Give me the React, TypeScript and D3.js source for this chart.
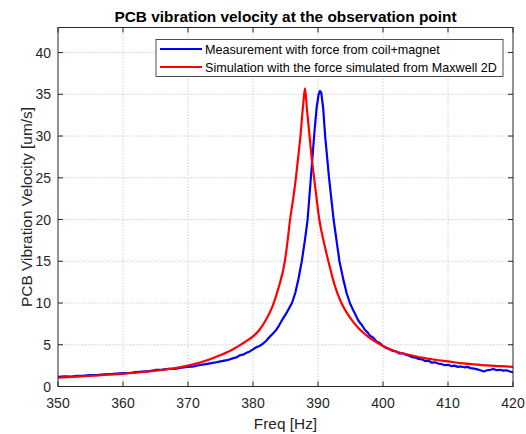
import React from "react";
import * as d3 from "d3";

const xTicks = [350, 360, 370, 380, 390, 400, 410, 420];
const yTicks = [0, 5, 10, 15, 20, 25, 30, 35, 40];

const measFreq = [
  350, 351, 352, 353, 354, 355, 356, 357, 358, 359, 360, 361, 362, 363, 364, 365, 366, 367, 368, 369,
  370, 371, 372, 373, 374, 375, 376, 377, 377.5, 378, 378.5, 379, 379.5, 380, 380.5, 381, 381.5,
  382, 382.5, 383, 383.5, 384, 384.5, 385, 385.5, 386, 386.5, 387, 387.5, 388, 388.4, 388.9, 389.4,
  389.8, 390.1, 390.3, 390.5, 390.8, 391.1, 391.7, 392.4, 393.3, 393.9, 394.4, 394.9, 395.5, 396.2,
  396.7, 397.2, 397.6, 398, 398.5, 399, 399.5, 400, 400.5, 401, 401.5, 402, 402.5, 403, 403.5, 404,
  404.5, 405, 405.5, 406, 406.5, 407, 407.5, 408, 408.5, 409, 409.5, 410, 410.5, 411, 411.5, 412,
  412.5, 413, 413.5, 414, 414.5, 415, 415.5, 416, 416.5, 417, 417.5, 418, 418.5, 419, 419.5, 420,
];
const measVel = [
  1.15, 1.22, 1.2, 1.28, 1.3, 1.38, 1.36, 1.45, 1.5, 1.55, 1.6, 1.62, 1.72, 1.78, 1.85, 1.98, 2.02, 2.1, 2.12, 2.25,
  2.35, 2.42, 2.6, 2.72, 2.85, 3.0, 3.15, 3.4, 3.5, 3.75, 3.82, 4.05, 4.2, 4.45, 4.7, 4.85, 5.1,
  5.45, 5.9, 6.3, 6.7, 7.3, 8.0, 8.6, 9.3, 10.0, 11.2, 12.9, 15.0, 17.6, 20.0, 25.0, 30.0,
  33.5, 35.0, 35.4, 35.2, 33.3, 30.0, 25.0, 20.0, 15.0, 12.8, 11.2, 10.0, 9.0, 7.9,
  7.4, 6.8, 6.5, 6.1, 5.85, 5.4, 5.2, 4.85, 4.6, 4.45, 4.25, 4.2, 3.95, 4.0, 3.8, 3.7,
  3.5, 3.45, 3.3, 3.25, 3.05, 3.1, 2.85, 2.9, 2.75, 2.7, 2.55, 2.6, 2.45, 2.5, 2.35, 2.4,
  2.3, 2.35, 2.2, 2.15, 2.05, 1.95, 1.8, 1.95, 2.0, 2.1, 1.95, 2.0, 1.9, 1.95, 1.8, 1.7,
];

const simFreq = [
  350, 352, 354, 356, 358, 360, 362, 364, 366, 368, 370, 372, 374, 376, 377, 378, 379, 380, 381, 382,
  383, 384, 384.9, 385.3, 385.7, 386.2, 386.6, 387.0, 387.3, 387.7, 388.0, 388.3, 388.7, 389.0, 389.4,
  389.8, 390.2, 390.9, 391.6, 392.5, 393.6, 394.5, 395.3, 396.2, 397.5, 398.7, 400, 402, 404, 406,
  408, 410, 412, 414, 416, 418, 420,
];
const simVel = [
  1.05, 1.14, 1.23, 1.32, 1.42, 1.52, 1.65, 1.8, 1.98, 2.2, 2.5, 2.9, 3.45, 4.1, 4.5, 4.95, 5.45, 6.0, 6.8, 8.0,
  9.6, 12.0, 15.0, 17.3, 20.0, 22.6, 25.0, 27.8, 30.0, 33.6, 35.7, 33.2, 30.0, 27.6, 25.0,
  22.4, 20.0, 17.3, 15.0, 12.3, 10.0, 8.75, 7.85, 7.0, 6.1, 5.45, 4.85, 4.2, 3.8, 3.45,
  3.2, 3.0, 2.8, 2.65, 2.52, 2.43, 2.35,
];

const seriesNames = [
  "Measurement with force from coil+magnet",
  "Simulation with the force simulated from Maxwell 2D",
];
const seriesColors = ["#0000ff", "#ff0000"];

const W = 526;
const H = 434;
const L = 58;
const R = 513;
const T = 27.5;
const B = 386.5;
const FONT = "'Liberation Sans', Arial, Helvetica, sans-serif";
const AX = "#262626";

export default function App() {
  const x = d3.scaleLinear().domain([350, 420]).range([L, R]);
  const y = d3.scaleLinear().domain([0, 43]).range([B, T]);

  const measData = measFreq.map((f, i) => [f, measVel[i]] as [number, number]);
  const simData = simFreq.map((f, i) => [f, simVel[i]] as [number, number]);

  const measLine = d3.line<[number, number]>().x((d) => x(d[0])).y((d) => y(d[1]))(measData) || "";
  const simLine = d3
    .line<[number, number]>()
    .x((d) => x(d[0]))
    .y((d) => y(d[1]))
    .curve(d3.curveMonotoneX)(simData) || "";

  const tickLen = 5;
  const legX = 156;
  const legY = 39.5;
  const legW = 347;
  const legH = 37;

  return (
    <svg
      width={W}
      height={H}
      style={{ position: "absolute", left: 0, top: 0, background: "#fff" }}
      fontFamily={FONT}
    >
      <rect x={0} y={0} width={W} height={H} fill="#fff" />
      <defs>
        <clipPath id="plotclip">
          <rect x={L} y={T} width={R - L} height={B - T} />
        </clipPath>
      </defs>
      {/* grid */}
      <g stroke="#c4c4c4" strokeWidth={0.8} strokeDasharray="1.5,1.5">
        {xTicks.slice(1, -1).map((t) => (
          <line key={"gx" + t} x1={x(t)} x2={x(t)} y1={T} y2={B} />
        ))}
        {yTicks.slice(1).map((t) => (
          <line key={"gy" + t} x1={L} x2={R} y1={y(t)} y2={y(t)} />
        ))}
      </g>
      {/* data */}
      <g clipPath="url(#plotclip)" fill="none" strokeLinejoin="round" strokeLinecap="round">
        <path d={measLine} stroke={seriesColors[0]} strokeWidth={2.2} />
        <path d={simLine} stroke={seriesColors[1]} strokeWidth={2.2} />
      </g>
      {/* axes box */}
      <rect x={L} y={T} width={R - L} height={B - T} fill="none" stroke={AX} strokeWidth={1} />
      <g stroke={AX} strokeWidth={1}>
        {xTicks.map((t) => (
          <g key={"tx" + t}>
            <line x1={x(t)} x2={x(t)} y1={B} y2={B - tickLen} />
            <line x1={x(t)} x2={x(t)} y1={T} y2={T + tickLen} />
          </g>
        ))}
        {yTicks.map((t) => (
          <g key={"ty" + t}>
            <line x1={L} x2={L + tickLen} y1={y(t)} y2={y(t)} />
            <line x1={R} x2={R - tickLen} y1={y(t)} y2={y(t)} />
          </g>
        ))}
      </g>
      {/* tick labels */}
      <g fill={AX} fontSize={14}>
        {xTicks.map((t) => (
          <text key={"lx" + t} x={x(t)} y={408} textAnchor="middle">
            {t}
          </text>
        ))}
        {yTicks.map((t) => (
          <text key={"ly" + t} x={L - 7} y={y(t) + 5} textAnchor="end">
            {t}
          </text>
        ))}
      </g>
      {/* labels */}
      <text x={(L + R) / 2} y={429} textAnchor="middle" fontSize={15.4} fill={AX}>
        Freq [Hz]
      </text>
      <text
        transform={`translate(31.5, ${(T + B) / 2}) rotate(-90)`}
        textAnchor="middle"
        fontSize={15.4}
        fill={AX}
      >
        PCB Vibration Velocity [um/s]
      </text>
      <text x={(L + R) / 2} y={22} textAnchor="middle" fontSize={15.4} fontWeight="bold" fill="#000">
        PCB vibration velocity at the observation point
      </text>
      {/* legend */}
      <rect x={legX} y={legY} width={legW} height={legH} fill="#fff" stroke={AX} strokeWidth={0.8} />
      {seriesNames.map((name, i) => {
        const cy = legY + 9.5 + i * 18;
        return (
          <g key={name}>
            <line x1={160} x2={202} y1={cy} y2={cy} stroke={seriesColors[i]} strokeWidth={2.2} />
            <text x={205} y={cy + 4.5} fontSize={12.6} fill="#000">
              {name}
            </text>
          </g>
        );
      })}
    </svg>
  );
}
